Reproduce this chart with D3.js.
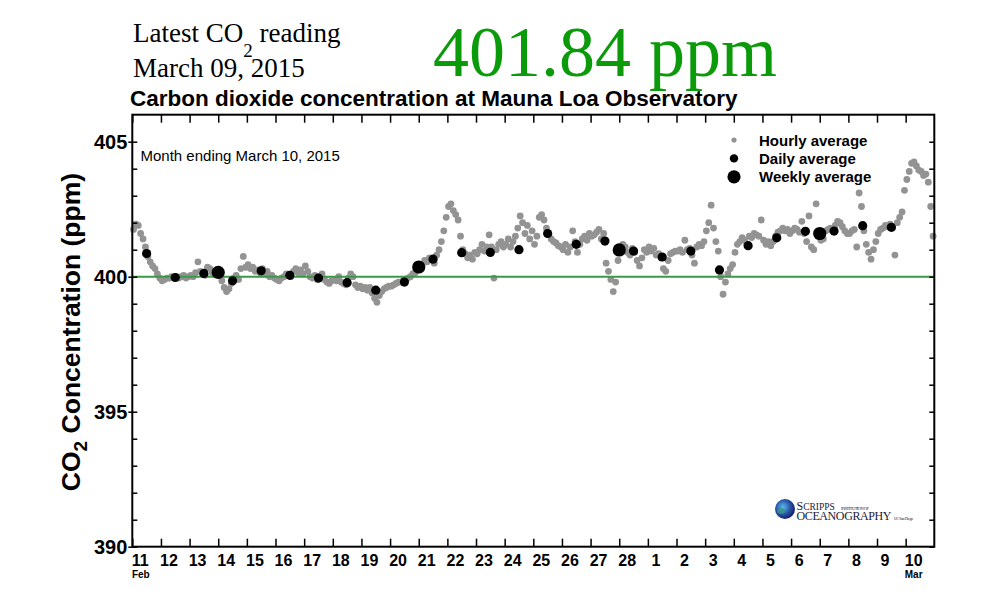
<!DOCTYPE html>
<html>
<head>
<meta charset="utf-8">
<script src="https://cdn.jsdelivr.net/npm/d3@7/dist/d3.min.js"></script>
<style>
body{margin:0;background:#fff;}
svg{display:block;}
</style>
</head>
<body>
<div id="chart"></div>
<script>
// readings, one value every 2 hours (01h,03h,...,23h), one line per day
var hourlyStart = Date.UTC(2015, 1, 11);
var hourlyStepHours = 2;
var hourlyValues = [
  401.75,401.95,401.9,401.6,401.4,401.1,400.75,400.55,400.4,400.3,400.1,399.95,      // Feb 11
  399.85,399.9,399.95,399.95,400.0,399.95,400.0,399.95,400.0,400.05,399.95,400.0,    // Feb 12
  400.05,400.0,400.15,400.55,400.2,400.1,400.05,400.35,400.3,400.15,400.1,400.15,    // Feb 13
  400.1,399.85,399.6,399.45,399.55,399.75,399.95,400.05,399.9,400.3,400.75,400.35,   // Feb 14
  400.45,400.3,400.35,400.2,400.25,400.15,400.3,400.1,400.2,400.0,400.05,399.95,     // Feb 15
  399.9,399.85,399.95,400.0,400.1,400.05,400.0,400.2,400.3,400.15,400.25,400.1,      // Feb 16
  400.4,400.2,400.0,399.95,400.05,399.9,400.0,400.1,399.9,399.8,399.75,399.85,       // Feb 17
  399.9,399.85,400.0,399.8,399.75,399.7,399.95,400.1,400.0,399.7,399.6,399.65,       // Feb 18
  399.55,399.6,399.5,399.6,399.4,399.2,399.05,399.3,399.45,399.55,399.6,399.65,      // Feb 19
  399.65,399.7,399.75,399.8,399.8,399.85,399.9,399.95,400.0,400.1,400.15,400.25,     // Feb 20
  400.35,400.45,400.6,400.55,400.7,400.65,400.5,400.8,401.0,401.3,401.7,402.2,       // Feb 21
  402.6,402.7,402.45,402.3,402.1,401.5,401.0,400.85,400.7,400.8,400.65,400.9,        // Feb 22
  400.85,401.0,401.2,400.95,401.1,401.55,401.1,399.95,401.0,401.2,401.3,401.1,       // Feb 23
  401.2,401.4,401.1,401.3,401.5,401.8,402.25,402.0,401.6,401.9,401.4,401.7,          // Feb 24
  401.2,401.5,402.2,402.3,402.1,401.8,401.55,401.4,401.3,401.25,401.15,401.1,        // Feb 25
  401.0,401.2,400.9,401.1,401.7,401.3,400.9,401.2,401.4,401.5,401.35,401.6,          // Feb 26
  401.5,401.55,401.65,401.75,401.4,401.6,400.5,400.2,399.9,399.45,399.8,400.6,       // Feb 27
  401.0,401.2,401.1,400.9,400.8,401.05,400.9,400.6,400.4,400.7,401.0,400.9,          // Feb 28
  401.1,400.95,401.05,400.8,400.85,400.7,400.3,400.2,400.6,400.85,400.9,400.95,      // Mar 1
  400.95,401.0,400.9,401.35,401.0,401.05,400.8,400.5,401.1,401.2,401.15,401.3,       // Mar 2
  401.7,402.0,402.65,401.8,401.3,400.95,400.0,399.35,399.8,400.1,400.3,400.45,       // Mar 3
  400.9,401.2,401.3,401.45,401.35,401.2,401.5,401.45,401.6,401.55,401.5,402.1,       // Mar 4
  401.35,401.2,401.3,401.15,401.3,401.5,401.65,401.7,401.8,401.7,401.75,401.6,       // Mar 5
  401.7,401.8,401.75,401.65,402.05,401.6,401.3,402.25,401.1,401.0,402.7,401.5,       // Mar 6
  401.35,401.4,401.7,401.75,401.8,401.7,401.9,402.05,402.0,401.85,401.7,401.6,       // Mar 7
  401.6,401.7,401.75,401.1,403.1,402.6,401.7,401.2,400.9,400.65,401.0,401.3,         // Mar 8
  401.6,401.75,401.8,401.9,401.85,401.95,401.8,400.8,402.0,402.2,402.4,403.2,        // Mar 9
  403.6,403.9,404.2,404.25,404.1,403.95,403.9,403.75,403.8,403.5,402.6,401.5         // Mar 10
];

// daily averages, Feb 11 .. Mar 9 (plotted at noon)
var dailyValues = [400.86,399.97,400.12,399.85,400.22,400.05,399.95,399.78,399.5,399.8,
  400.65,400.89,400.9,401.0,401.6,401.2,401.32,400.95,400.73,400.95,400.25,
  401.15,401.44,401.68,401.69,401.89,401.83];

// weekly averages
var weeklyDates = ["2015-02-14","2015-02-21","2015-02-28","2015-03-07"];
var weeklyValues = [400.16,400.36,400.99,401.6];

var yMajorTicks = [390,395,400,405];
var latestReading = "401.84";
var latestDate = "March 09, 2015";

var width = 1000, height = 600;
var plotLeft = 132.3, plotRight = 934.3, plotTop = 114.7, plotBottom = 546.7;

var svg = d3.select("#chart").append("svg")
    .attr("width",width)
    .attr("height",height)
    .style("font-family","'Liberation Sans', Arial, sans-serif");

svg.append("rect").attr("width",width).attr("height",height).attr("fill","#fff");

var x = d3.scaleUtc()
    .domain([new Date(Date.UTC(2015,1,11)), new Date(Date.UTC(2015,2,11))])
    .range([plotLeft,plotRight]);
var y = d3.scaleLinear().domain([390,406]).range([plotBottom,plotTop]);

var hourly = hourlyValues.map(function(v,i){
    return {t:new Date(hourlyStart + (i*hourlyStepHours+1)*3600e3), v:v};
});
var days = d3.utcDay.range(x.domain()[0], x.domain()[1]);
var daily = dailyValues.map(function(v,i){
    return {t:d3.utcHour.offset(days[i],12), v:v};
});
var weekly = weeklyValues.map(function(v,i){
    return {t:new Date(weeklyDates[i]+"T00:00:00Z"), v:v};
});

// hourly points
svg.append("g").selectAll("circle")
    .data(hourly).enter().append("circle")
    .attr("cx",function(d){return x(d.t);})
    .attr("cy",function(d){return y(d.v);})
    .attr("r",3.4)
    .attr("fill","#939393");

// 400 ppm reference
svg.append("line")
    .attr("x1",plotLeft).attr("x2",plotRight)
    .attr("y1",y(400)).attr("y2",y(400))
    .attr("stroke","#3a9a46").attr("stroke-width",2);

svg.append("g").selectAll("circle")
    .data(daily).enter().append("circle")
    .attr("cx",function(d){return x(d.t);})
    .attr("cy",function(d){return y(d.v);})
    .attr("r",4.6)
    .attr("fill","#000");

svg.append("g").selectAll("circle")
    .data(weekly).enter().append("circle")
    .attr("cx",function(d){return x(d.t);})
    .attr("cy",function(d){return y(d.v);})
    .attr("r",6.6)
    .attr("fill","#000");

// axes
var dayFmt = d3.utcFormat("%-d");
var gx = svg.append("g").attr("transform","translate(0,"+plotBottom+")")
    .call(d3.axisBottom(x).tickValues(days).tickSize(-8).tickPadding(8).tickFormat(dayFmt));
gx.select(".domain").remove();
gx.selectAll("line").attr("stroke-width",1.5);
gx.selectAll("text").attr("x",7.5).style("font-size","16px").style("font-weight","bold");

var gxt = svg.append("g").attr("transform","translate(0,"+plotTop+")")
    .call(d3.axisTop(x).tickValues(days).tickSize(-8).tickFormat(""));
gxt.select(".domain").remove();
gxt.selectAll("line").attr("stroke-width",1.5);

var gyMinor = svg.append("g").attr("transform","translate("+plotLeft+",0)")
    .call(d3.axisLeft(y).tickValues(d3.range(390,406)).tickSize(-5).tickFormat(""));
gyMinor.select(".domain").remove();
gyMinor.selectAll("line").attr("stroke-width",1.5);

var gy = svg.append("g").attr("transform","translate("+plotLeft+",0)")
    .call(d3.axisLeft(y).tickValues(yMajorTicks).tickSize(4).tickPadding(1).tickFormat(d3.format("d")));
gy.select(".domain").remove();
gy.selectAll("line").attr("stroke-width",1.5);
gy.selectAll("text").style("font-size","20px").style("font-weight","bold");

var gyr = svg.append("g").attr("transform","translate("+plotRight+",0)")
    .call(d3.axisLeft(y).tickValues(d3.range(390,406)).tickSize(5).tickFormat(""));
gyr.select(".domain").remove();
gyr.selectAll("line").attr("stroke-width",1.5);

// frame
svg.append("rect")
    .attr("x",plotLeft).attr("y",plotTop)
    .attr("width",plotRight-plotLeft).attr("height",plotBottom-plotTop)
    .attr("fill","none").attr("stroke","#000").attr("stroke-width",2);

svg.append("text").attr("x",x(days[0])+8.5).attr("y",578)
    .attr("text-anchor","middle").style("font-size","10px").style("font-weight","bold").text("Feb");
svg.append("text").attr("x",x(days[days.length-1])+8).attr("y",578)
    .attr("text-anchor","middle").style("font-size","10px").style("font-weight","bold").text("Mar");

// y title
var yt = svg.append("text")
    .attr("transform","translate(80,332) rotate(-90)")
    .attr("text-anchor","middle")
    .style("font-size","26.5px").style("font-weight","bold");
yt.append("tspan").text("CO");
yt.append("tspan").attr("dy",7).style("font-size","19px").text("2");
yt.append("tspan").attr("dy",-7).text(" Concentration (ppm)");

svg.append("text").attr("x",140.5).attr("y",161)
    .style("font-size","15px").text("Month ending March 10, 2015");

// legend
var legend = [
    {label:"Hourly average", r:2.6, fill:"#939393"},
    {label:"Daily average", r:4.2, fill:"#000"},
    {label:"Weekly average", r:6.6, fill:"#000"}
];
var lg = svg.append("g").selectAll("g").data(legend).enter().append("g")
    .attr("transform",function(d,i){return "translate(734,"+(140+i*18.4)+")";});
lg.append("circle").attr("r",function(d){return d.r;}).attr("fill",function(d){return d.fill;});
lg.append("text").attr("x",25).attr("y",5.5)
    .style("font-size","15px").style("font-weight","bold")
    .text(function(d){return d.label;});

// header
var serif = "'Liberation Serif', 'Times New Roman', serif";
var h1 = svg.append("text").attr("x",133).attr("y",42)
    .style("font-family",serif).style("font-size","27px");
h1.append("tspan").text("Latest CO");
h1.append("tspan").attr("dy",15).style("font-size","19px").text("2");
h1.append("tspan").attr("dy",-15).text(" reading");
svg.append("text").attr("x",133).attr("y",77)
    .style("font-family",serif).style("font-size","27px").text(latestDate);
svg.append("text").attr("x",433).attr("y",76)
    .style("font-family",serif).style("font-size","72px").attr("fill","#0a9a0a")
    .text(latestReading+" ppm");
svg.append("text").attr("x",130).attr("y",106)
    .style("font-size","22.5px").style("font-weight","bold")
    .text("Carbon dioxide concentration at Mauna Loa Observatory");

// Scripps logo
var defs = svg.append("defs");
var grad = defs.append("radialGradient").attr("id","globe").attr("cx","40%").attr("cy","40%").attr("r","60%");
grad.append("stop").attr("offset","0%").attr("stop-color","#5fb8e8");
grad.append("stop").attr("offset","55%").attr("stop-color","#2a5db0");
grad.append("stop").attr("offset","100%").attr("stop-color","#1a1f6e");
svg.append("circle").attr("cx",785).attr("cy",509).attr("r",10).attr("fill","url(#globe)");
svg.append("ellipse").attr("cx",781).attr("cy",511).attr("rx",4).attr("ry",3).attr("fill","#3a9a7a").attr("opacity",0.7);
var s1 = svg.append("text").attr("x",796.5).attr("y",510)
    .style("font-family",serif).style("font-size","12px").attr("fill","#1a1a3a");
s1.append("tspan").text("S");
s1.append("tspan").style("font-size","9.5px").text("CRIPPS");
svg.append("text").attr("x",841).attr("y",509.5)
    .style("font-family",serif).style("font-size","4.5px").attr("fill","#1a1a3a")
    .attr("textLength",28).text("INSTITUTION OF");
svg.append("text").attr("x",796.5).attr("y",519.5)
    .style("font-family",serif).style("font-size","12px").attr("fill","#1a1a3a")
    .attr("textLength",95).text("OCEANOGRAPHY");
svg.append("text").attr("x",894).attr("y",519.5)
    .style("font-family",serif).style("font-size","4px").attr("fill","#1a1a3a")
    .attr("textLength",19).text("UC San Diego");
</script>
</body>
</html>
